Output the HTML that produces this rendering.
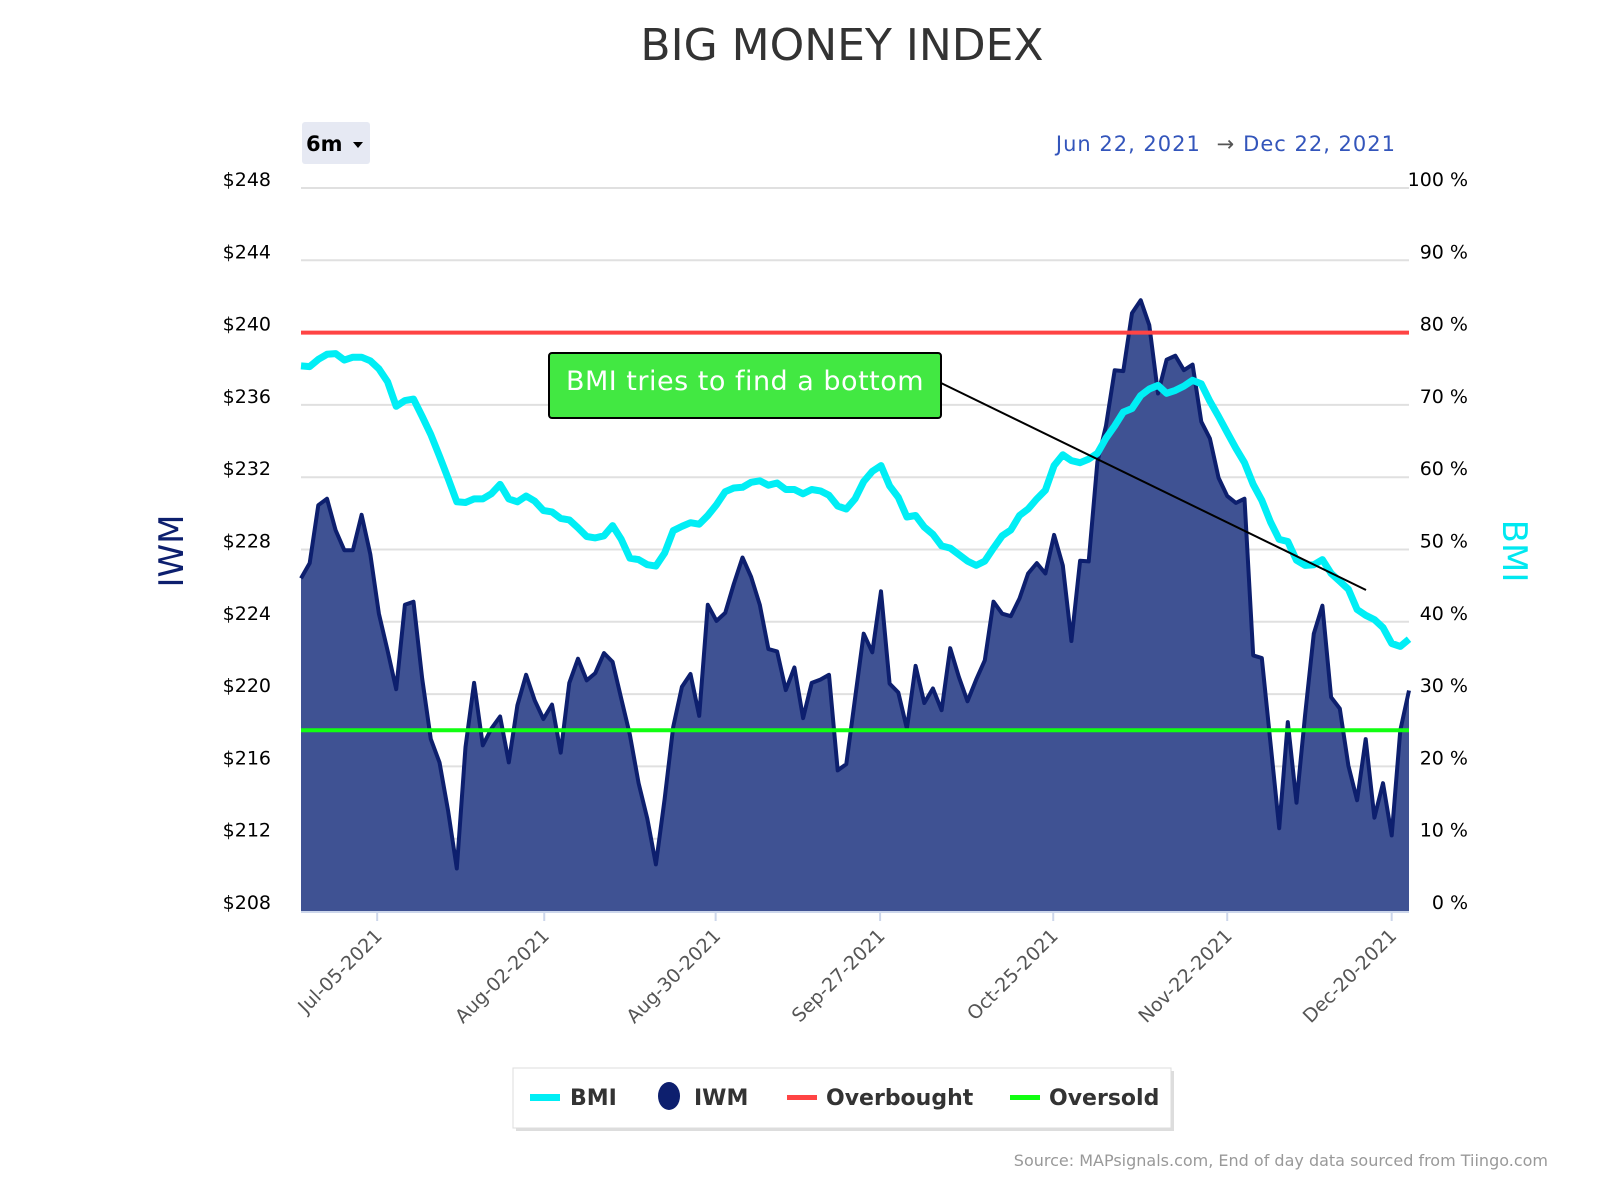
<!DOCTYPE html>
<html><head><meta charset="utf-8">
<style>
html,body{margin:0;padding:0;background:#fff;}
body{width:1600px;height:1200px;position:relative;overflow:hidden;font-family:"DejaVu Sans","Liberation Sans",sans-serif;}
svg text{font-family:"DejaVu Sans","Liberation Sans",sans-serif;}
</style></head>
<body>
<svg id="chart" width="1600" height="1200" xmlns="http://www.w3.org/2000/svg">
  <text x="842" y="60" font-size="44" fill="#333" text-anchor="middle">BIG MONEY INDEX</text>
  <g>
    <rect x="302" y="122" width="68" height="42" rx="3" fill="#e6e9f3"/>
    <text x="306" y="151" font-size="21" font-weight="bold" fill="#000">6m</text>
    <path d="M353 142 L363 142 L358 148 Z" fill="#000"/>
  </g>
  <text x="1396" y="151" font-size="21" fill="#3355bb" text-anchor="end" letter-spacing="1">Jun 22, 2021 <tspan fill="#555" dx="8">→</tspan><tspan dx="8">Dec 22, 2021</tspan></text>
  <g id="grid"></g>
  <g id="series"></g>
  <g id="axes"></g>
  <text transform="translate(183,551) rotate(-90)" font-size="34" fill="#0d1f6e" text-anchor="middle">IWM</text>
  <text transform="translate(1503,551) rotate(90)" font-size="34" fill="#00e8f0" text-anchor="middle">BMI</text>
  <g>
    <line x1="941" y1="383" x2="1366" y2="590" stroke="#000" stroke-width="2"/>
    <rect x="549" y="353" width="392" height="65" rx="3" fill="#42e842" stroke="#000" stroke-width="2"/>
    <text x="745" y="390" font-size="27" fill="#fff" text-anchor="middle" letter-spacing="0.5">BMI tries to find a bottom</text>
  </g>
  <g>
    <rect x="516" y="1071" width="658" height="60" fill="#bbb" opacity="0.5"/>
    <rect x="513" y="1068" width="658" height="60" fill="#fff" stroke="#ddd"/>
    <g><rect x="530" y="1094" width="30" height="7" fill="#00eef5"/><text x="570" y="1105" font-size="22" font-weight="bold" fill="#333">BMI</text></g>
    <g><ellipse cx="669" cy="1096" rx="11" ry="14" fill="#0d1f6e"/><text x="694" y="1105" font-size="22" font-weight="bold" fill="#333">IWM</text></g>
    <g><rect x="787" y="1095" width="30" height="5" fill="#f44"/><text x="826" y="1105" font-size="22" font-weight="bold" fill="#333">Overbought</text></g>
    <g><rect x="1010" y="1095" width="30" height="5" fill="#1f1"/><text x="1049" y="1105" font-size="22" font-weight="bold" fill="#333">Oversold</text></g>
  </g>
  <text x="1548" y="1166" font-size="16" fill="#999" text-anchor="end">Source: MAPsignals.com, End of day data sourced from Tiingo.com</text>
</svg>
<script>
const iwm = [226.40,227.25,230.45,230.81,229.07,227.96,227.96,229.92,227.74,224.45,222.40,220.27,224.94,225.11,220.85,217.51,216.22,213.51,210.35,217.07,220.62,217.16,218.09,218.76,216.22,219.38,221.07,219.65,218.62,219.42,216.76,220.62,221.96,220.76,221.16,222.27,221.78,219.74,217.74,215.07,213.11,210.58,
214.18,218.18,220.40,221.11,218.80,224.94,224.05,224.49,226.09,227.56,226.49,224.94,222.49,222.36,220.22,221.47,218.67,220.62,220.80,221.07,215.78,216.13,219.74,223.34,222.31,225.69,220.58,220.09,218.09,221.56,219.51,220.31,219.11,222.54,220.94,219.60,220.80,221.87,225.11,224.45,224.31,225.29,
226.67,227.25,226.67,228.81,227.12,222.94,227.38,227.34,232.85,234.85,237.92,237.87,241.08,241.79,240.41,236.63,238.50,238.72,237.92,238.23,235.07,234.14,231.96,230.96,230.58,230.81,222.14,222.00,217.29,212.58,218.45,213.99,218.85,223.34,224.89,219.83,219.20,216.04,214.13,217.51,213.16,215.07,212.18,218.0,220.2];
const bmi = [75.4,75.3,76.3,77.0,77.1,76.2,76.6,76.6,76.1,75.0,73.2,69.8,70.6,70.8,68.4,65.9,62.9,59.8,56.6,56.5,57.0,57.0,57.7,59.0,57.0,56.6,57.4,56.7,55.4,55.2,54.3,54.1,53.0,51.8,51.6,51.9,53.3,51.4,48.8,48.6,47.9,47.7,
49.5,52.6,53.2,53.7,53.5,54.7,56.2,58.0,58.5,58.6,59.3,59.5,58.9,59.2,58.3,58.3,57.7,58.3,58.1,57.5,56.0,55.6,57.0,59.4,60.8,61.6,58.8,57.2,54.5,54.7,53.1,52.1,50.5,50.2,49.3,48.4,47.8,48.4,50.2,51.9,52.7,54.7,
55.6,57.0,58.2,61.6,63.1,62.3,62.0,62.5,63.3,65.4,67.1,69.0,69.5,71.3,72.2,72.7,71.6,72.0,72.6,73.4,72.9,70.5,68.4,66.2,64.0,62.0,59.0,56.8,53.8,51.4,51.1,48.5,47.8,47.9,48.6,46.7,45.6,44.5,41.7,40.9,40.3,39.2,37.0,36.6,37.6];
const priceTicks = [208,212,216,220,224,228,232,236,240,244,248];
const pctTicks = [0,10,20,30,40,50,60,70,80,90,100];
const dateLabels = ["Jul-05-2021","Aug-02-2021","Aug-30-2021","Sep-27-2021","Oct-25-2021","Nov-22-2021","Dec-20-2021"];
const dateIdx = [8.8,28.1,47.9,66.9,86.9,107.0,126.0];
const overbought = 80, oversold = 25;

const L=301,R=1409,T=188,B=911;
const NS="http://www.w3.org/2000/svg";
const n=iwm.length;
const xAt=i=>L+(R-L)*i/(n-1);
const yP=p=>B-(p-208)/(248-208)*(B-T);
const yB=v=>B-v/100*(B-T);
function mk(tag,attrs,parent){const e=document.createElementNS(NS,tag);for(const k in attrs)e.setAttribute(k,attrs[k]);parent.appendChild(e);return e;}
const grid=document.getElementById('grid'),ser=document.getElementById('series'),ax=document.getElementById('axes');
priceTicks.forEach((p,k)=>{
  const y=yP(p);
  const g=mk('line',{x1:L,x2:R,y1:y,y2:y,stroke:'#e0e0e0','stroke-width':2},grid);
  
  
  const t=mk('text',{x:271,y:y-2,'font-size':19,fill:'#000','text-anchor':'end'},ax);
  t.textContent='$'+p;
  
  
  const t2=mk('text',{x:1468,y:y-2,'font-size':19,fill:'#000','text-anchor':'end'},ax);
  t2.textContent=pctTicks[k]+' %';
  
  
});
let d='M'+xAt(0)+' '+yP(iwm[0]);
for(let i=1;i<n;i++)d+=' L'+xAt(i).toFixed(1)+' '+yP(iwm[i]).toFixed(1);
const area=mk('path',{d:d+' L'+R+' '+B+' L'+L+' '+B+' Z',fill:'#3f5293'},ser);


const ln=mk('path',{d:d,fill:'none',stroke:'#0d1f6e','stroke-width':4,'stroke-linejoin':'round'},ser);


const obY=yB(overbought),osY=yB(oversold);
const ob=mk('line',{x1:L,x2:R,y1:obY,y2:obY,stroke:'#f44','stroke-width':4},ser);


const os=mk('line',{x1:L,x2:R,y1:osY,y2:osY,stroke:'#1f1','stroke-width':4},ser);


let db='M'+xAt(0)+' '+yB(bmi[0]);
for(let i=1;i<bmi.length;i++)db+=' L'+xAt(i).toFixed(1)+' '+yB(bmi[i]).toFixed(1);
const bl=mk('path',{d:db,fill:'none',stroke:'#00eef5','stroke-width':7,'stroke-linejoin':'round'},ser);


const base=mk('line',{x1:L,x2:R,y1:B+1,y2:B+1,stroke:'#ccd6eb','stroke-width':2},ax);


dateLabels.forEach((lab,k)=>{
  const x=xAt(dateIdx[k]);
  const tk=mk('line',{x1:x,x2:x,y1:B,y2:B+10,stroke:'#ccd6eb','stroke-width':2},ax);
  
  
  const t=mk('text',{transform:'translate('+(x+6)+','+(B+26)+') rotate(-45)','font-size':19,fill:'#555','text-anchor':'end'},ax);
  t.textContent=lab;
  
  
});
</script>
</body></html>
